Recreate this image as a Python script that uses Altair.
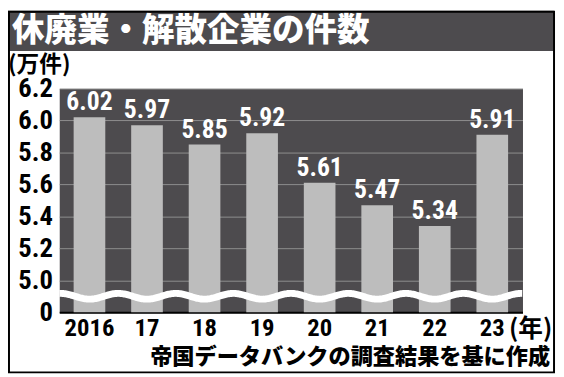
import altair as alt
import pandas as pd
import numpy as np

# ---- data ----
years = ["2016", "17", "18", "19", "20", "21", "22", "23"]
counts = [6.02, 5.97, 5.85, 5.92, 5.61, 5.47, 5.34, 5.91]
tick_values = [4.8, 5.0, 5.2, 5.4, 5.6, 5.8, 6.0, 6.2]
title_text = "休廃業・解散企業の件数"
unit_text = "(万件)"
source_text = "帝国データバンクの調査結果を基に作成"
year_suffix = "(年)"

W, H = 470, 227
NUM_FONT = "Roboto Condensed, Liberation Sans, Arial, sans-serif"
JP_FONT = "Noto Sans CJK JP"
DARK = "#4d4b4e"
BAR = "#bdbdbd"

df = pd.DataFrame({"year": years, "count": counts})

yscale = alt.Scale(domain=[4.8, 6.2], nice=False, zero=False)
xscale = alt.Scale(domain=years, paddingInner=0.45, paddingOuter=0.25)

y_axis = alt.Axis(title=None, values=tick_values,
                  labelExpr="datum.value < 4.9 ? '0' : format(datum.value, '.1f')",
                  labelFont=NUM_FONT, labelFontSize=27, labelFontWeight="bold",
                  labelColor="black", labelPadding=7, ticks=False, domain=False,
                  grid=True, gridColor="#8e8e8e", gridWidth=1)

x_enc = alt.X("year:N", scale=xscale, sort=years,
              axis=alt.Axis(title=None, labelFont=NUM_FONT, labelFontSize=25,
                            labelFontWeight="bold", labelColor="black", labelAngle=0,
                            labelPadding=4, ticks=False, domainColor="black",
                            domainWidth=2, grid=False))
y_enc = alt.Y("count:Q", scale=yscale, axis=y_axis)

bars = alt.Chart(df).mark_bar(color=BAR).encode(x=x_enc, y=y_enc, y2=alt.datum(4.8))

labels = alt.Chart(df).mark_text(color="white", font=NUM_FONT, fontSize=26,
                                 fontWeight="bold", baseline="bottom", dy=-2).encode(
    x=alt.X("year:N", scale=xscale, sort=years),
    y=alt.Y("count:Q", scale=yscale, axis=y_axis),
    text=alt.Text("count:Q", format=".2f"),
)

suffix = alt.Chart(pd.DataFrame({"year": [years[-1]], "t": [year_suffix]})).mark_text(
    font=JP_FONT, fontSize=25, fontWeight="bold", color="black", align="left",
    baseline="middle", dx=17).encode(
    x=alt.X("year:N", scale=xscale, sort=years),
    y=alt.value(H + 17),
    text="t:N",
)

inner = alt.layer(bars, labels, suffix)

# decorative wavy break line (not data)
wx = np.arange(0, W + 1, 1.0)
step = W / (len(years) - 0.45 + 0.5)
wave_df = pd.DataFrame({"px": wx,
                        "wy": 4.9 - 0.018 * np.cos(2 * np.pi * (wx - step * 0.25 - step * 0.55 / 2) / step)})
wave = alt.Chart(wave_df).mark_line(color="white", strokeWidth=7, clip=True).encode(
    x=alt.X("px:Q", scale=alt.Scale(domain=[0, W], nice=False, zero=False), axis=None),
    y=alt.Y("wy:Q", scale=yscale, axis=y_axis),
)

one = pd.DataFrame({"a": [0]})
title_bar = alt.Chart(one).mark_rect(color=DARK).encode(
    x=alt.value(-52), x2=alt.value(502), y=alt.value(-79), y2=alt.value(-38))
title = alt.Chart(one).mark_text(text=title_text, font=JP_FONT, fontSize=33, fontWeight=900,
                                 color="white", align="left", baseline="middle").encode(
    x=alt.value(-48), y=alt.value(-58))
unit = alt.Chart(one).mark_text(text=unit_text, font=JP_FONT, fontSize=23, fontWeight="bold",
                                color="black", align="left", baseline="middle").encode(
    x=alt.value(-52), y=alt.value(-24))
source = alt.Chart(one).mark_text(text=source_text, font=JP_FONT, fontSize=22.5, fontWeight=900,
                                  color="black", align="right", baseline="middle").encode(
    x=alt.value(498), y=alt.value(272))
frame = alt.Chart(one).mark_rect(filled=False, stroke="black", strokeWidth=2).encode(
    x=alt.value(-51), x2=alt.value(502), y=alt.value(-78), y2=alt.value(288))

chart = alt.layer(title_bar, inner, wave, title, unit, source, frame).resolve_scale(
    x="independent"
).properties(
    width=W, height=H,
    padding={"left": 52, "top": 79, "right": 34, "bottom": 63},
    autosize=alt.AutoSizeParams(type="none"),
    background="white",
).configure_view(fill=DARK, stroke="transparent")

chart.save("out.html", embed_options={"renderer": "svg", "actions": False})
